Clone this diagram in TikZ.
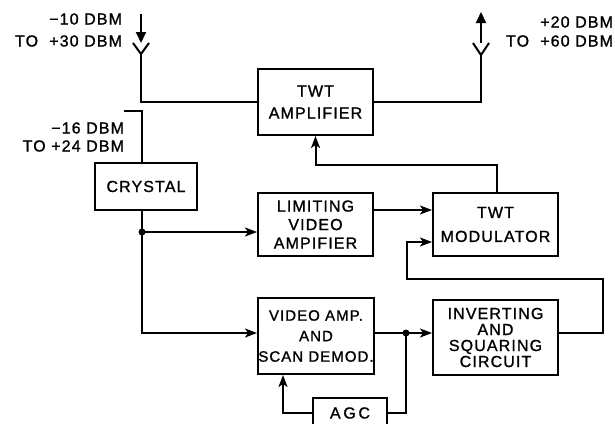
\documentclass[tikz,border=0pt]{standalone}
\usepackage{fontspec}
\setmainfont[LetterSpace=7,FakeBold=1.2]{Liberation Sans}
\usetikzlibrary{arrows.meta}
\begin{document}
\begin{tikzpicture}[x=1pt,y=-1pt,line width=2pt,
  >={Stealth[length=12pt,width=9pt,inset=3pt]},
  ant/.style={-{Triangle[length=11pt,width=10pt]}},
  blk/.style={draw,rectangle,inner sep=0pt,align=center},
  lbl/.style={inner sep=0pt,align=right},
  dot/.style={circle,fill,inner sep=0pt,minimum size=7pt}]
\clip (0,0) rectangle (615,423);
% blocks
\node[blk,minimum width=115,minimum height=66,font=\fontsize{16}{22}\selectfont] (amp) at (315.5,102) {TWT\\AMPLIFIER};
\node[blk,minimum width=102,minimum height=47,font=\fontsize{16}{18}\selectfont] (crystal) at (146,186.5) {CRYSTAL};
\node[blk,minimum width=115,minimum height=63,font=\fontsize{16}{18.5}\selectfont] (lim) at (315.5,224.5) {LIMITING\\VIDEO\\AMPIFIER};
\node[blk,minimum width=125,minimum height=63,font=\fontsize{16}{24}\selectfont] (mod) at (495.5,224.5) {TWT\\MODULATOR};
\node[blk,minimum width=116,minimum height=76,font=\fontsize{15}{20.5}\selectfont] (vid) at (316,336) {VIDEO AMP.\\AND\\SCAN DEMOD.};
\node[blk,minimum width=125,minimum height=75,font=\fontsize{16}{16}\selectfont] (inv) at (495.5,337.5) {INVERTING\\AND\\SQUARING\\CIRCUIT};
\node[blk,minimum width=74,minimum height=30,font=\fontsize{16}{18}\selectfont] (agc) at (350,413) {A\,G\,C};
% labels
\node[lbl,anchor=east,font=\fontsize{16}{22}\selectfont] (lin) at (123,30) {−10 DBM\\TO\ \ +30 DBM};
\node[lbl,anchor=east,font=\fontsize{16}{19}\selectfont] (lout) at (614,31.5) {+20 DBM\\TO\ \ +60 DBM};
\node[lbl,anchor=east,font=\fontsize{16}{18}\selectfont] (lx) at (125,137) {−16 DBM\\TO +24 DBM};
% input antenna
\coordinate (inTop) at (141,14);
\coordinate (inTip) at (141,43);
\coordinate (inV) at (141,54);
\draw[ant] (inTop) -- (inTip);
\draw ([xshift=-8pt]inTip) -- (inV) -- ([xshift=8pt]inTip);
\draw (inV) |- (amp.west);
% output antenna
\coordinate (outTip) at (481,12);
\coordinate (outBase) at (481,43);
\coordinate (outV) at (481,55);
\draw (amp.east) -| (outV);
\draw ([xshift=-8pt]outBase) -- (outV) -- ([xshift=8pt]outBase);
\draw[ant] (outBase) -- (outTip);
% crystal input
\coordinate (xin) at (124,111);
\draw (xin) -| ([xshift=-4pt]crystal.north);
% crystal outputs
\coordinate (j1) at (142,232);
\coordinate (j2) at (142,333);
\draw ([xshift=-4pt]crystal.south) -- (j1);
\draw[->] (j1) -- (j1 -| lim.west);
\draw[->] (j1) -- (j2) -- (j2 -| vid.west);
\node[dot] (d1) at (j1) {};
% limiting -> modulator
\coordinate (m1) at (0,210);
\draw[->] (m1 -| lim.east) -- (m1 -| mod.west);
% video amp -> inverting
\coordinate (j3) at (406,333);
\draw[->] (j2 -| vid.east) -- (j3 -| inv.west);
\node[dot] (d3) at (j3) {};
% feedback inverting -> modulator
\coordinate (fr) at (603,279);
\coordinate (fb) at (407,279);
\coordinate (m2) at (407,242);
\draw[->] (j2 -| inv.east) -| (fr) -- (fb) -- (m2) -- (m2 -| mod.west);
% modulator -> amplifier
\coordinate (ma) at (497,165);
\draw[->] (ma |- mod.north) -- (ma) -| (amp.south);
% AGC loop
\coordinate (ag) at (406,413);
\coordinate (av) at (283,413);
\draw (j3) -- (ag) -- (agc.east);
\draw[->] (agc.west) -- (av) -- (av |- vid.south);
\end{tikzpicture}
\end{document}
